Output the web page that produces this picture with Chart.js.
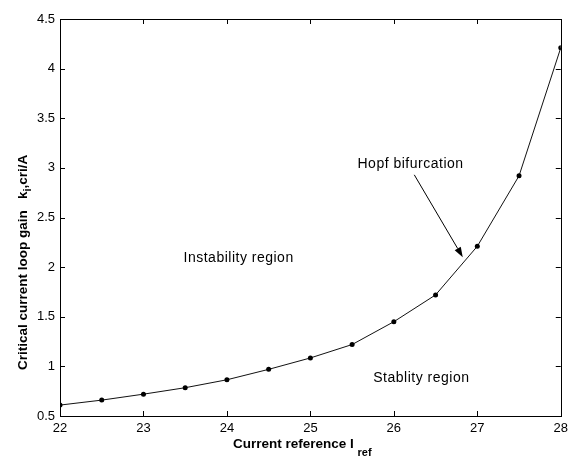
<!DOCTYPE html>
<html>
<head>
<meta charset="utf-8">
<script src="https://cdn.jsdelivr.net/npm/chart.js@4.4.1/dist/chart.umd.min.js"></script>
<style>
html,body{margin:0;padding:0;background:#fff;}
#wrap{width:573px;height:459px;position:relative;}
</style>
</head>
<body>
<div id="wrap"><canvas id="c" width="573" height="459"></canvas></div>
<script>
// ---- data ----
const currentRef = [22, 22.5, 23, 23.5, 24, 24.5, 25, 25.5, 26, 26.5, 27, 27.5, 28];
const criticalGain = [0.61, 0.66, 0.72, 0.785, 0.865, 0.97, 1.085, 1.22, 1.45, 1.72, 2.21, 2.92, 4.21];
const xTicks = [22, 23, 24, 25, 26, 27, 28];
const yTicks = [0.5, 1, 1.5, 2, 2.5, 3, 3.5, 4, 4.5];
const annotationTexts = ["Hopf bifurcation", "Instability region", "Stablity region"];
const annotationX = [26.2, 24.14, 26.33];
const annotationY = [3.04, 2.09, 0.88];
const arrowFrom = [26.245, 2.93];
const arrowTo = [26.826, 2.10];

const FONT = "'Liberation Sans', Arial, Helvetica, sans-serif";

const boxPlugin = {
  id: 'matlabBox',
  afterDraw(chart) {
    const ctx = chart.ctx;
    const a = chart.chartArea;
    const xs = chart.scales.x, ys = chart.scales.y;
    ctx.save();
    ctx.strokeStyle = '#000';
    ctx.lineWidth = 1;
    // box
    ctx.strokeRect(Math.round(a.left) + 0.5, Math.round(a.top) + 0.5,
                   Math.round(a.right - a.left), Math.round(a.bottom - a.top));
    // inward ticks
    const tl = 5;
    ctx.beginPath();
    xTicks.forEach(v => {
      const px = Math.round(xs.getPixelForValue(v)) + 0.5;
      ctx.moveTo(px, a.bottom); ctx.lineTo(px, a.bottom - tl);
      ctx.moveTo(px, a.top); ctx.lineTo(px, a.top + tl);
    });
    yTicks.forEach(v => {
      const py = Math.round(ys.getPixelForValue(v)) + 0.5;
      ctx.moveTo(a.left, py); ctx.lineTo(a.left + tl, py);
      ctx.moveTo(a.right, py); ctx.lineTo(a.right - tl, py);
    });
    ctx.stroke();

    // annotations
    ctx.fillStyle = '#000';
    ctx.font = '14px ' + FONT;
    ctx.letterSpacing = '0.5px';
    ctx.textAlign = 'center';
    ctx.textBaseline = 'middle';
    annotationTexts.forEach((t, i) => {
      ctx.fillText(t, xs.getPixelForValue(annotationX[i]), ys.getPixelForValue(annotationY[i]));
    });
    ctx.letterSpacing = '0px';

    // arrow
    const x1 = xs.getPixelForValue(arrowFrom[0]), y1 = ys.getPixelForValue(arrowFrom[1]);
    const x2 = xs.getPixelForValue(arrowTo[0]), y2 = ys.getPixelForValue(arrowTo[1]);
    const ang = Math.atan2(y2 - y1, x2 - x1);
    const hl = 10, hw = 3.5;
    const bx = x2 - hl * Math.cos(ang), by = y2 - hl * Math.sin(ang);
    ctx.beginPath();
    ctx.moveTo(x1, y1); ctx.lineTo(bx, by);
    ctx.stroke();
    ctx.beginPath();
    ctx.moveTo(x2, y2);
    ctx.lineTo(bx + hw * Math.sin(ang), by - hw * Math.cos(ang));
    ctx.lineTo(bx - hw * Math.sin(ang), by + hw * Math.cos(ang));
    ctx.closePath();
    ctx.fill();

    // x axis title with subscript
    const bold = 'bold 13.5px ' + FONT;
    const subBold = 'bold 11px ' + FONT;
    ctx.textAlign = 'left';
    ctx.textBaseline = 'alphabetic';
    const xt = 'Current reference I', xs1 = 'ref';
    ctx.font = bold; const w1 = ctx.measureText(xt + ' ').width;
    let sx = 233;
    ctx.font = bold; ctx.fillText(xt + ' ', sx, 448);
    ctx.font = subBold; ctx.fillText(xs1, sx + w1, 456);

    // y axis title rotated
    ctx.save();
    ctx.translate(27, 370);
    ctx.rotate(-Math.PI / 2);
    const p1 = 'Critical current loop gain   k', p2 = 'i', p3 = ',cri/A';
    ctx.font = bold; ctx.fillText(p1, 0, 0);
    let off = ctx.measureText(p1).width;
    ctx.font = subBold; ctx.fillText(p2, off, 4);
    off += ctx.measureText(p2).width;
    ctx.font = bold; ctx.fillText(p3, off, 0);
    ctx.restore();

    ctx.restore();
  }
};

new Chart(document.getElementById('c'), {
  type: 'line',
  data: {
    datasets: [{
      data: currentRef.map((x, i) => ({x: x, y: criticalGain[i]})),
      borderColor: '#111',
      borderWidth: 1,
      pointRadius: 2.5,
      pointBackgroundColor: '#000',
      pointBorderColor: '#000',
      pointBorderWidth: 0,
      tension: 0,
      fill: false
    }]
  },
  options: {
    responsive: false,
    animation: false,
    devicePixelRatio: 1,
    layout: {padding: {left: 0, top: 19, right: 7, bottom: 0}},
    plugins: {legend: {display: false}, tooltip: {enabled: false}},
    scales: {
      x: {
        type: 'linear', min: 22, max: 28,
        afterFit(s) { s.height = 43; },
        afterBuildTicks(s) { s.ticks = xTicks.map(v => ({value: v})); },
        grid: {display: false, drawTicks: false},
        border: {display: false},
        ticks: {font: {family: FONT, size: 13}, color: '#000', padding: 5, maxRotation: 0,
                callback: v => String(v)}
      },
      y: {
        type: 'linear', min: 0.5, max: 4.5,
        afterFit(s) { s.width = 60; },
        afterBuildTicks(s) { s.ticks = yTicks.map(v => ({value: v})); },
        grid: {display: false, drawTicks: false},
        border: {display: false},
        ticks: {font: {family: FONT, size: 13}, color: '#000', padding: 5,
                callback: v => String(v)}
      }
    }
  },
  plugins: [boxPlugin]
});
</script>
</body>
</html>
